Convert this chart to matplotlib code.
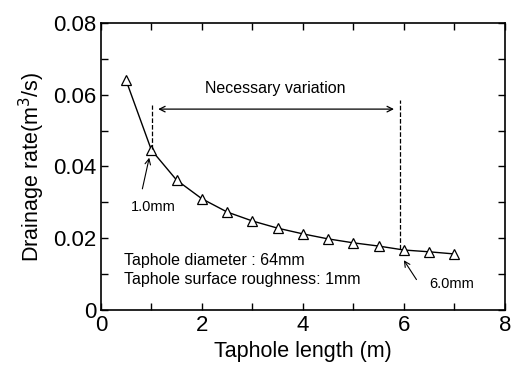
import matplotlib
matplotlib.use("Agg")
import matplotlib.pyplot as plt
from matplotlib.ticker import MultipleLocator, FuncFormatter

plt.rcParams['font.family'] = ['Liberation Sans', 'DejaVu Sans']

length = [0.5, 1.0, 1.5, 2.0, 2.5, 3.0, 3.5, 4.0, 4.5, 5.0, 5.5, 6.0, 6.5, 7.0]
rate = [0.064, 0.0446, 0.0362, 0.031, 0.0273, 0.0248, 0.0228, 0.0212, 0.0198, 0.0187, 0.0178, 0.0167, 0.0162, 0.0156]

fig = plt.figure(figsize=(5.12, 3.72), dpi=100)
ax = fig.add_axes([0.197, 0.167, 0.789, 0.771])
ax.plot(length, rate, color='black', lw=1, marker='^', markersize=7.5,
        markerfacecolor='white', markeredgecolor='black', markeredgewidth=0.9)

ax.set_xlim(0, 8)
ax.set_ylim(0, 0.08)
ax.xaxis.set_major_locator(MultipleLocator(2))
ax.xaxis.set_minor_locator(MultipleLocator(1))
ax.yaxis.set_major_locator(MultipleLocator(0.02))
ax.yaxis.set_minor_locator(MultipleLocator(0.01))
ax.yaxis.set_major_formatter(FuncFormatter(lambda v, p: '0' if abs(v) < 1e-9 else f'{v:.2f}'))
ax.tick_params(which='both', direction='in', top=True, right=True, labelsize=16, width=1)
ax.tick_params(which='major', length=5)
ax.tick_params(which='minor', length=5)
for s in ax.spines.values():
    s.set_linewidth(1.2)

ax.set_xlabel('Taphole length (m)', fontsize=15.5)
ax.set_ylabel('Drainage rate(m$^3$/s)', fontsize=15.5)

ax.plot([1.01, 1.01], [0.045, 0.0572], ls='--', color='black', lw=0.9)
ax.plot([5.92, 5.92], [0.017, 0.0585], ls='--', color='black', lw=0.9)
ax.annotate('', xy=(1.08, 0.056), xytext=(5.86, 0.056),
            arrowprops=dict(arrowstyle='<->', color='black', lw=0.9))
ax.text(3.45, 0.0618, 'Necessary variation', ha='center', va='center', fontsize=11.5)

ax.annotate('', xy=(0.97, 0.0432), xytext=(0.81, 0.033),
            arrowprops=dict(arrowstyle='->', color='black', lw=0.8))
ax.text(0.6, 0.0286, '1.0mm', ha='left', va='center', fontsize=10.5)

ax.annotate('', xy=(5.97, 0.0145), xytext=(6.28, 0.0078),
            arrowprops=dict(arrowstyle='->', color='black', lw=0.8))
ax.text(6.5, 0.0071, '6.0mm', ha='left', va='center', fontsize=10.5)

ax.text(0.46, 0.0137, 'Taphole diameter : 64mm', ha='left', va='center', fontsize=11.5)
ax.text(0.46, 0.0085, 'Taphole surface roughness: 1mm', ha='left', va='center', fontsize=11.5)

fig.savefig('out.png', dpi=100)
